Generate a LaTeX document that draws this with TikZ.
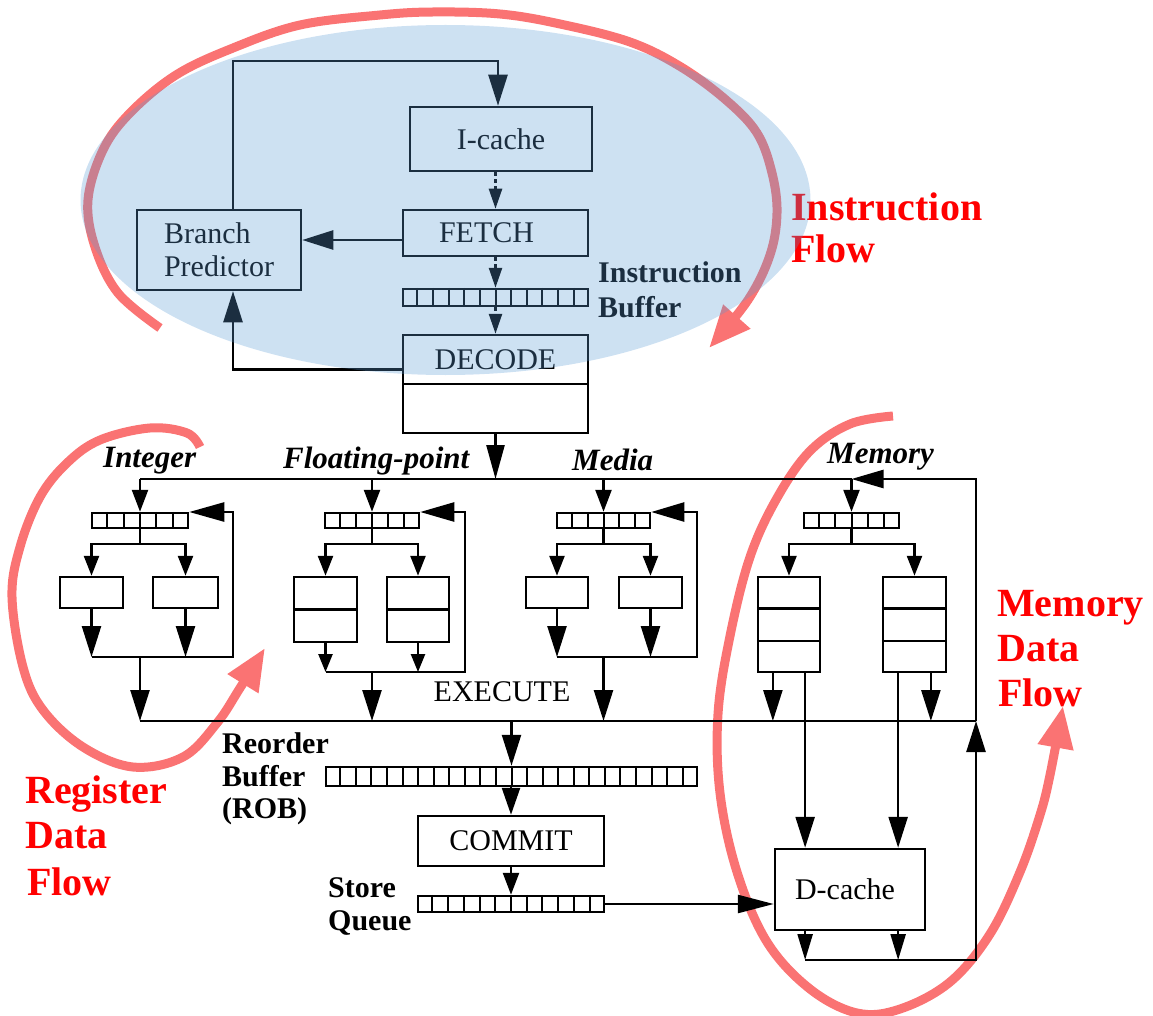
\documentclass[tikz,border=0pt]{standalone}
\usepackage{fontspec}
\setmainfont{Liberation Serif}
\usetikzlibrary{arrows.meta,calc}

\definecolor{flowred}{RGB}{250,115,115}
\definecolor{hiblue}{RGB}{91,155,213}
\definecolor{labred}{RGB}{255,0,0}

\tikzset{
  wire/.style={line width=2.5pt},
  box/.style={draw, line width=2.5pt, inner sep=0pt, font=\fontsize{30}{33}\selectfont},
  bigtip/.style={-{Triangle[length=31pt,width=19pt]}},
  midtip/.style={-{Triangle[length=22pt,width=16pt]}},
  smalltip/.style={-{Triangle[length=18pt,width=14pt]}},
  tipL/.style={-{Triangle[length=#1,width=18pt]}},
  dashtip/.style={wire, dash pattern=on 4pt off 3pt, -{Triangle[length=20pt,width=13pt]}},
  fork/.style={wire, {Triangle[length=20pt,width=15pt]}-{Triangle[length=20pt,width=15pt]}},
  flow/.style={draw=flowred, line width=9pt, -{Triangle[length=42pt,width=34pt]}},
  txt/.style={inner sep=0pt, font=\fontsize{30}{33}\selectfont},
  btxt/.style={inner sep=0pt, anchor=base west, font=\fontsize{30}{33}\selectfont\bfseries},
  itxt/.style={inner sep=0pt, anchor=base west, font=\fontsize{31}{33}\selectfont\bfseries\itshape},
  redtxt/.style={inner sep=0pt, anchor=base west, text=labred, font=\fontsize{40}{45}\selectfont\bfseries},
}

% vertical dividers of a queue node: #1 node, #2 number of cells
\newcommand\splitcells[2]{%
  \pgfmathtruncatemacro\lastk{#2-1}%
  \foreach \k in {1,...,\lastk}{%
    \draw[line width=2pt] ($(#1.north west)!{\k/#2}!(#1.north east)$) --
                          ($(#1.south west)!{\k/#2}!(#1.south east)$);}}
% horizontal dividers of a stage box: #1 node, #2 number of rows
\newcommand\splitrows[2]{%
  \pgfmathtruncatemacro\lastk{#2-1}%
  \foreach \k in {1,...,\lastk}{%
    \draw[line width=2.5pt] ($(#1.north west)!{\k/#2}!(#1.south west)$) --
                            ($(#1.north east)!{\k/#2}!(#1.south east)$);}}

\begin{document}
\begin{tikzpicture}[x=1pt,y=-1pt]
\useasboundingbox (0,0) rectangle (1153,1016);

% ---------- flow arrows (under the pipeline drawing) ----------
\draw[flow] plot[smooth, tension=0.6] coordinates {
  (160,328) (118,293) (95,247) (88,200) (103,150) (130,113) (176,75)
  (233,48) (300,25) (380,15) (433,12) (500,14) (560,24) (630,42) (681,67)
  (726,100) (757,133) (772,173) (777,213) (770,255) (748,300) (709,348)};
\draw[flow] plot[smooth, tension=0.6] coordinates {
  (200,447) (187,433) (150,428) (100,440) (67,463) (40,497) (20,547)
  (12,597) (23,667) (43,710) (83,747) (133,767) (183,757) (217,723)
  (240,688) (265,648)};
\draw[flow] plot[smooth, tension=0.6] coordinates {
  (893,416) (850,424) (810,451) (777,498) (750,557) (730,636) (718,714)
  (720,793) (737,872) (767,942) (810,989) (857,1013) (900,1009)
  (950,982) (990,934) (1020,872) (1040,815) (1050,775) (1063,706)};

% ---------- front end ----------
\node[box, minimum width=182pt, minimum height=64pt] (icache) at (501,139) {I-cache};
\node[box, minimum width=185pt, minimum height=46pt] (fetch) at (495.5,233) {FETCH\hspace*{18pt}};
\node[box, minimum width=164pt, minimum height=80pt, align=left] (bp) at (219,250) {Branch\\Predictor};
\node[box, minimum width=185pt, minimum height=17pt] (ibuf) at (495.5,297.5) {};
\splitcells{ibuf}{12}
\node[box, minimum width=185pt, minimum height=49pt] (decA) at (495.5,359.5) {DECODE};
\node[box, minimum width=185pt, minimum height=49pt] (decB) at (495.5,408.5) {};

\node[btxt] (ibl1) at (598,283) {Instruction};
\node[btxt] (ibl2) at (598,317) {Buffer};

\coordinate (loopL) at (233,61);
\coordinate (loopR) at (498,61);
\draw[wire, bigtip] (bp.north -| loopL) -- (loopL) -- (loopR) -- (icache.north -| loopR);
\draw[dashtip] (icache.south -| fetch.north) -- (fetch.north);
\coordinate (fbp) at ($(fetch.west)+(0,7)$);
\draw[wire, bigtip] (fbp) -- (fbp -| bp.east);
\draw[dashtip] (fetch.south) -- (ibuf.north);
\draw[dashtip] (ibuf.south) -- (decA.north);
\coordinate (dbp) at ($(decA.west)+(0,10)$);
\draw[wire, bigtip] (dbp) -| (bp.south -| loopL);

% ---------- issue queues and execution units ----------
\foreach \n/\cx/\w in {q1/140/96, q2/372/94, q3/603.5/93, q4/851.5/95}{
  \node[box, minimum width=\w pt, minimum height=15pt] (\n) at (\cx,520.5) {};
  \splitcells{\n}{6}
}

\node[box, minimum width=63pt, minimum height=31pt] (intA) at (91.5,592.5) {};
\node[box, minimum width=65pt, minimum height=31pt] (intB) at (185.5,592.5) {};
\node[box, minimum width=63pt, minimum height=65pt] (fpA) at (325.5,609.5) {};
\node[box, minimum width=62pt, minimum height=65pt] (fpB) at (418,609.5) {};
\splitrows{fpA}{2}
\splitrows{fpB}{2}
\node[box, minimum width=62pt, minimum height=31pt] (mdA) at (557,592.5) {};
\node[box, minimum width=63pt, minimum height=31pt] (mdB) at (650.5,592.5) {};
\node[box, minimum width=62pt, minimum height=95pt] (mmA) at (789,624.5) {};
\node[box, minimum width=63pt, minimum height=95pt] (mmB) at (914.5,624.5) {};
\splitrows{mmA}{3}
\splitrows{mmB}{3}

\node[itxt] (lint) at (103,467) {Integer};
\node[itxt] (lfp) at (283,468) {Floating-point};
\node[itxt] (lmd) at (572,470) {Media};
\node[itxt] (lmm) at (827,463) {Memory};
\node[txt] (lexe) at (502,692) {EXECUTE};

% dispatch bus
\coordinate (busL) at (q1.north |- 0,479);
\coordinate (busR) at (q4.north |- 0,479);
\draw[wire, -{Triangle[length=34pt,width=18pt]}] (decB.south) -- (decB.south |- busL);
\draw[wire] (busL) -- (busR);
\foreach \n in {q1,q2,q3,q4}{
  \draw[wire, midtip] (\n.north |- busL) -- (\n.north);
}

% result bus
\coordinate (busB) at (q1.south |- 0,721);
\coordinate (busBR) at (976,721);
\draw[wire] (busB) -- (busBR);

% fan-out from each queue to its two units
\foreach \n/\a/\b in {q1/intA/intB, q2/fpA/fpB, q3/mdA/mdB, q4/mmA/mmB}{
  \coordinate (\n split) at (\n.south |- 0,544);
  \draw[wire] (\n.south) -- (\n split);
  \draw[fork] (\a.north) |- (\n split) -| (\b.north);
}

% integer results
\coordinate (intBack) at (233,657);
\draw[wire, bigtip] (intA.south) -- (intA.south |- intBack);
\draw[wire, bigtip] (intB.south) -- (intB.south |- intBack);
\draw[wire, -{Triangle[length=35pt,width=19pt]}] (intA.south |- intBack) -- (intBack)
  -- (intBack |- 0,512) -- (q1.east |- 0,512);
\draw[wire, bigtip] (q1.south |- intBack) -- (q1.south |- busB);

% floating-point results
\coordinate (fpBack) at (465,672);
\draw[wire, smalltip] (fpA.south) -- (fpA.south |- fpBack);
\draw[wire, smalltip] (fpB.south) -- (fpB.south |- fpBack);
\draw[wire, -{Triangle[length=34pt,width=19pt]}] (fpA.south |- fpBack) -- (fpBack)
  -- (fpBack |- 0,512) -- (q2.east |- 0,512);
\draw[wire, bigtip] (q2.south |- fpBack) -- (q2.south |- busB);

% media results
\coordinate (mdBack) at (697,657);
\draw[wire, bigtip] (mdA.south) -- (mdA.south |- mdBack);
\draw[wire, bigtip] (mdB.south) -- (mdB.south |- mdBack);
\draw[wire, -{Triangle[length=33pt,width=19pt]}] (mdA.south |- mdBack) -- (mdBack)
  -- (mdBack |- 0,512) -- (q3.east |- 0,512);
\draw[wire, bigtip] (q3.south |- mdBack) -- (q3.south |- busB);

% ---------- retirement ----------
\node[box, minimum width=371pt, minimum height=19pt] (rob) at (511.5,776.5) {};
\splitcells{rob}{24}
\node[box, minimum width=186pt, minimum height=50pt] (commit) at (511,841) {COMMIT};
\node[box, minimum width=186pt, minimum height=16pt] (sq) at (511,904) {};
\splitcells{sq}{12}
\node[box, minimum width=150pt, minimum height=81pt] (dc) at (850,889.5) {D-cache\hspace*{10pt}};

\node[btxt] (robl1) at (222,753) {Reorder};
\node[btxt] (robl2) at (222,786) {Buffer};
\node[btxt] (robl3) at (222,818) {(ROB)};
\node[btxt] (sql1) at (328,897) {Store};
\node[btxt] (sql2) at (328,930) {Queue};

\draw[wire, bigtip] (rob.north |- busB) -- (rob.north);
\draw[wire, tipL=27pt] (rob.south -| commit.north) -- (commit.north);
\draw[wire, midtip] (commit.south) -- (sq.north);
\draw[wire, -{Triangle[length=36pt,width=18pt]}] (sq.east) -- (sq.east -| dc.west);

% memory units: results, loads/stores and D-cache return path
\coordinate (memOutA) at ($(mmA.south west)!0.25!(mmA.south east)$);
\coordinate (memLdA)  at ($(mmA.south west)!0.75!(mmA.south east)$);
\coordinate (memLdB)  at ($(mmB.south west)!0.25!(mmB.south east)$);
\coordinate (memOutB) at ($(mmB.south west)!0.75!(mmB.south east)$);
\draw[wire, bigtip] (memOutA) -- (memOutA |- busB);
\draw[wire, bigtip] (memOutB) -- (memOutB |- busB);
\draw[wire, bigtip] (memLdA) -- (memLdA |- dc.north);
\draw[wire, bigtip] (memLdB) -- (memLdB |- dc.north);

\coordinate (dcBack) at (976,960);
\coordinate (fbTop) at (976,479);
\draw[wire, -{Triangle[length=26pt,width=15pt]}] (memLdA |- dc.south) -- (memLdA |- dcBack);
\draw[wire, -{Triangle[length=26pt,width=15pt]}] (memLdB |- dc.south) -- (memLdB |- dcBack);
\draw[wire, bigtip] (memLdA |- dcBack) -- (dcBack) -- (busBR);
\draw[wire, -{Triangle[length=32pt,width=18pt]}] (busBR) -- (fbTop) -- (busR);

% ---------- flow labels ----------
\node[redtxt] (if1) at (791,221) {Instruction};
\node[redtxt] (if2) at (791,262) {Flow};
\node[redtxt] (mf1) at (997,616) {Memory};
\node[redtxt] (mf2) at (997,661) {Data};
\node[redtxt] (mf3) at (998,706) {Flow};
\node[redtxt] (rf1) at (25,803) {Register};
\node[redtxt] (rf2) at (25,848) {Data};
\node[redtxt] (rf3) at (27,895) {Flow};

% ---------- front-end highlight ----------
\fill[hiblue, opacity=0.3] (445.5,200) ellipse [x radius=365pt, y radius=175pt];

\end{tikzpicture}
\end{document}
